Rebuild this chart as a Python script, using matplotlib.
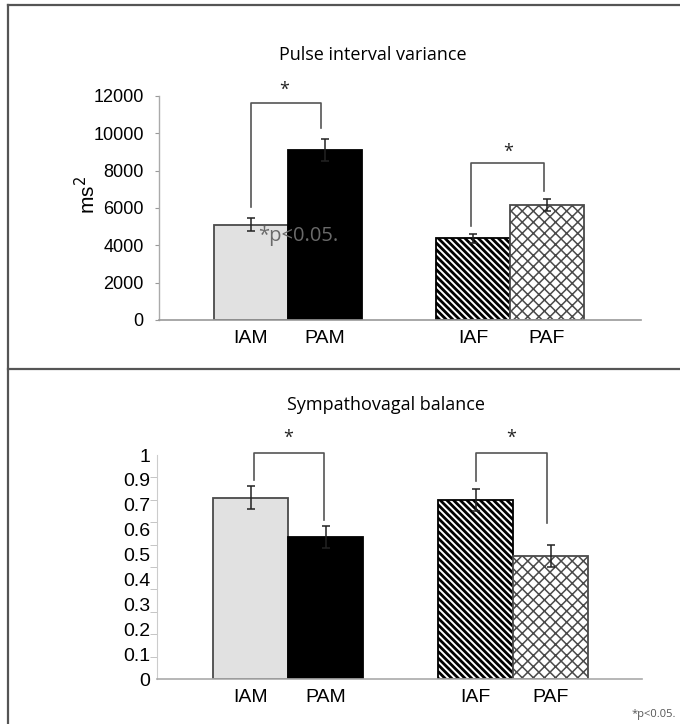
import matplotlib
matplotlib.use("Agg")
import matplotlib.pyplot as plt
from matplotlib.lines import Line2D

# ---- data ----
groups = ["IAM", "PAM", "IAF", "PAF"]
positions = [0, 1, 3, 4]

piv_values = [5100, 9100, 4380, 6170]
piv_errors = [350, 600, 240, 330]
piv_yticks = [0, 2000, 4000, 6000, 8000, 10000, 12000]

svb_values = [0.81, 0.633, 0.80, 0.549]
svb_errors = [0.05, 0.05, 0.05, 0.05]
svb_minor_ticks = [0, 0.1, 0.2, 0.3, 0.4, 0.5, 0.6, 0.7, 0.8, 0.9, 1.0]
svb_ticklabels = ["0", "0.1", "0.2", "0.3", "0.4", "0.5", "0.6", "0.7", "0.9", "1"]

# brackets: (x_left, x_right, y_top, y_left_bottom, y_right_bottom, star_x, star_y)
piv_brackets = [(0.0, 0.95, 11640, 6070, 10280, 0.45, 12330),
                (2.98, 3.96, 8390, 5030, 6900, 3.47, 9020)]
svb_brackets = [(0.05, 0.98, 1.011, 0.89, 0.71, 0.5, 1.075),
                (3.01, 3.95, 1.011, 0.885, 0.698, 3.47, 1.075)]

W, H = 680, 724
fig = plt.figure(figsize=(W / 100, H / 100), dpi=100)

NARROW = ["Liberation Sans", "DejaVu Sans"]
TITLEF = ["Open Sans", "DejaVu Sans"]

styles = [
    dict(facecolor="#e1e1e1", edgecolor="#4a4a4a", hatch=None, hlw=1.0),
    dict(facecolor="#000000", edgecolor="#000000", hatch=None, hlw=1.0),
    dict(facecolor="#ffffff", edgecolor="#000000", hatch="\\\\\\\\\\", hlw=2.0),
    dict(facecolor="#ffffff", edgecolor="#4a4a4a", hatch="xxx", hlw=1.1),
]


def px_axes(left, top, right, bottom):
    return fig.add_axes([left / W, 1 - bottom / H, (right - left) / W, (bottom - top) / H])


def draw_bars(ax, values, errors):
    for pos, v, e, st in zip(positions, values, errors, styles):
        plt.rcParams["hatch.linewidth"] = st["hlw"]
        b = ax.bar(pos, v, width=1.0, color=st["facecolor"], edgecolor=st["edgecolor"],
                   hatch=st["hatch"], linewidth=1.3, zorder=2)
        for p in b:
            try:
                p.set_hatch_linewidth(st["hlw"])
            except AttributeError:
                pass
        ax.errorbar(pos, v, yerr=e, fmt="none", ecolor="#222222", elinewidth=1.1,
                    capsize=3, capthick=1.1, zorder=3)


def draw_brackets(ax, brackets):
    for xl, xr, yt, ylb, yrb, sx, sy in brackets:
        ax.plot([xl, xl, xr, xr], [ylb, yt, yt, yrb], color="#555555", lw=1.2,
                clip_on=False, zorder=4)
        ax.text(sx, sy, "*", ha="center", va="center", fontsize=13,
                family=TITLEF, color="#222222", clip_on=False)


# ---- top panel ----
ax1 = px_axes(159, 96, 641, 320)
draw_bars(ax1, piv_values, piv_errors)
draw_brackets(ax1, piv_brackets)
ax1.set_xlim(-1.24, 5.27)
ax1.set_ylim(0, 12000)
ax1.set_yticks(piv_yticks)
ax1.set_yticklabels([str(t) for t in piv_yticks], family=NARROW, fontsize=13)
ax1.set_xticks(positions)
ax1.set_xticklabels(groups, family=NARROW, fontsize=14)
ax1.tick_params(axis="y", length=3, color="#999999", pad=8)
ax1.tick_params(axis="x", length=0, pad=7)
for s in ["top", "right"]:
    ax1.spines[s].set_visible(False)
ax1.spines["left"].set_color("#aaaaaa")
ax1.spines["bottom"].set_color("#999999")
ax1.spines["left"].set_linewidth(1.0)
ax1.spines["bottom"].set_linewidth(1.2)
ax1.set_ylabel("ms$^2$", fontsize=15, family=NARROW)
ax1.yaxis.set_label_coords((99 - 159) / 482, (320 - 195) / 224)
fig.text(373 / W, 1 - 55 / H, "Pulse interval variance", ha="center", va="center",
         fontsize=13, family=TITLEF)
fig.text(258 / W, 1 - 236 / H, "*p<0.05.", ha="left", va="center", fontsize=14.5,
         family=TITLEF, color="#6a6a6a", zorder=10)

# ---- bottom panel ----
ax2 = px_axes(157, 455, 642, 679)
draw_bars(ax2, svb_values, svb_errors)
draw_brackets(ax2, svb_brackets)
ax2.set_xlim(-1.25, 5.22)
ax2.set_ylim(0, 1.0)
ax2.set_yticks(svb_minor_ticks, minor=True)
ax2.set_yticks([i / 9 for i in range(10)])
ax2.set_yticklabels(svb_ticklabels, family=NARROW, fontsize=14)
ax2.tick_params(axis="y", which="major", length=0, pad=5)
ax2.tick_params(axis="y", which="minor", length=5, color="#bbbbbb")
ax2.set_xticks(positions)
ax2.set_xticklabels(groups, family=NARROW, fontsize=14)
ax2.tick_params(axis="x", length=0, pad=7)
for s in ["top", "right"]:
    ax2.spines[s].set_visible(False)
ax2.spines["left"].set_color("#cccccc")
ax2.spines["bottom"].set_color("#aaaaaa")
ax2.spines["bottom"].set_linewidth(1.2)
fig.text(386 / W, 1 - 405 / H, "Sympathovagal balance", ha="center", va="center",
         fontsize=13, family=TITLEF)
fig.text(676 / W, 1 - 714 / H, "*p<0.05.", ha="right", va="center", fontsize=8,
         family=TITLEF, color="#555555")

# ---- frame lines ----
frame_kw = dict(color="#555555", lw=1.6, transform=fig.transFigure)
fig.add_artist(Line2D([8 / W, 1], [1 - 5 / H, 1 - 5 / H], **frame_kw))
fig.add_artist(Line2D([8 / W, 8 / W], [1 - 5 / H, 0], **frame_kw))
fig.add_artist(Line2D([8 / W, 1], [1 - 369 / H, 1 - 369 / H], **frame_kw))

fig.savefig("out.png", dpi=100)
